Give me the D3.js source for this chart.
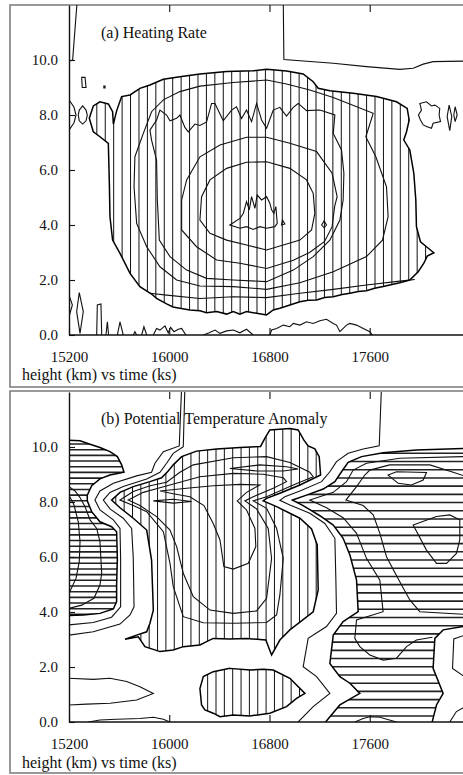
<!DOCTYPE html>
<html>
<head>
<meta charset="utf-8">
<script src="https://cdn.jsdelivr.net/npm/d3@7"></script>
<style>
  body { margin: 0; background: #fff; }
  svg { display: block; font-family: "Liberation Serif", "Times New Roman", serif; }
</style>
</head>
<body>
<div id="chart"></div>
<script>
// axes
const xTicks = [15200, 16000, 16800, 17600];
const yTicks = [0, 2, 4, 6, 8, 10];

// ---- (a) heating rate: contour lines as [time ks, height km] ----
const heatOuter = [[15554,7.67],[15580,8.15],[15620,8.67],[15687,8.73],[15766,8.97],[15846,9.09],[15953,9.30],[16085,9.39],[16245,9.49],[16458,9.58],[16670,9.61],[16777,9.66],[16936,9.60],[17069,9.49],[17149,9.21],[17189,8.97],[17282,8.88],[17468,8.79],[17654,8.67],[17814,8.48],[17899,8.24],[17915,7.82],[17894,7.39],[17872,7.09],[17920,6.73],[17952,5.88],[17968,4.91],[17973,3.94],[18005,3.39],[18053,3.21],[18112,2.99],[18059,2.87],[18032,2.61],[17987,2.30],[17920,2.00],[17840,1.90],[17707,1.76],[17640,1.70],[17574,1.61],[17510,1.58],[17442,1.52],[17380,1.47],[17309,1.39],[17240,1.36],[17176,1.27],[17110,1.26],[17043,1.21],[16963,1.09],[16883,0.97],[16830,0.91],[16777,0.73],[16697,0.79],[16617,0.85],[16564,0.76],[16511,0.85],[16458,0.76],[16378,0.85],[16298,0.81],[16245,0.88],[16165,0.91],[16085,0.97],[16030,1.02],[15979,1.13],[15899,1.33],[15859,1.49],[15766,1.76],[15687,2.24],[15607,2.97],[15548,3.45],[15527,4.30],[15522,5.52],[15514,6.97],[15447,7.21],[15394,7.39],[15362,7.88],[15394,8.33],[15447,8.48],[15514,8.40],[15548,8.12]];
const heatRing1 = [[15726,6.48],[15793,7.33],[15859,8.12],[15953,8.55],[16085,8.85],[16245,9.05],[16511,9.18],[16777,9.27],[16936,9.13],[17122,8.91],[17309,8.64],[17628,8.06],[17569,7.21],[17649,6.48],[17734,5.39],[17747,4.30],[17702,3.45],[17574,2.85],[17309,2.30],[17043,1.90],[16777,1.66],[16511,1.76],[16245,1.78],[16059,2.00],[15926,2.48],[15820,3.21],[15740,4.06],[15719,5.39]];
const heatRing2 = [[15846,7.45],[15899,7.82],[15926,8.18],[15979,8.00],[16006,7.79],[16059,7.88],[16085,8.00],[16125,7.55],[16152,7.39],[16205,7.67],[16245,7.62],[16298,7.75],[16338,8.42],[16365,8.42],[16405,8.04],[16431,7.79],[16498,8.18],[16537,8.30],[16577,7.87],[16617,8.18],[16657,7.76],[16697,8.42],[16737,7.82],[16777,7.52],[16830,8.18],[16883,8.28],[16936,7.96],[16990,8.28],[17029,8.42],[17096,8.16],[17202,8.18],[17322,8.00],[17309,7.33],[17375,6.73],[17394,5.88],[17388,4.91],[17362,4.18],[17282,3.45],[17149,2.85],[16990,2.36],[16777,1.94],[16511,2.00],[16298,2.06],[16139,2.36],[16006,2.85],[15921,3.45],[15905,4.91],[15899,6.36],[15859,7.09]];
const heatRing3 = [[16099,3.82],[16099,4.91],[16139,5.64],[16245,6.48],[16405,6.91],[16617,7.19],[16777,7.19],[16963,6.97],[17176,6.67],[17300,5.88],[17340,5.03],[17320,4.67],[17300,3.94],[17240,3.40],[17120,3.00],[16990,2.72],[16777,2.42],[16564,2.61],[16378,2.73],[16218,3.21]];
const heatRing4 = [[16245,4.18],[16258,5.03],[16325,5.64],[16458,6.06],[16617,6.28],[16777,6.30],[16963,6.06],[17096,5.64],[17149,5.15],[17162,4.42],[17136,3.82],[17043,3.45],[16910,3.27],[16777,3.09],[16617,3.27],[16458,3.45],[16325,3.70]];
const heatCore = [[16484,4.00],[16564,4.24],[16591,4.42],[16617,4.85],[16639,4.55],[16657,5.03],[16684,4.61],[16702,5.09],[16737,4.91],[16777,5.03],[16803,4.79],[16817,4.55],[16835,4.42],[16851,4.67],[16862,4.06],[16843,3.94],[16777,3.88],[16724,3.94],[16670,3.84],[16617,3.94],[16564,3.88]];
const heatSmallLoops = [
  [[16904,4.18],[16923,4.04],[16896,4.00]],
  [[17216,4.00],[17236,4.15],[17255,4.00],[17236,3.90]],
  [[15301,9.37],[15328,9.37],[15336,9.00],[15306,9.00]],
  [[15478,9.05],[15488,9.05],[15488,8.98],[15478,8.98]],
  [[15309,8.33],[15336,8.18],[15346,8.00],[15336,7.79],[15309,7.67],[15282,7.79],[15274,8.00],[15282,8.18]],
  [[18000,8.42],[18053,8.48],[18093,8.33],[18120,8.36],[18159,8.24],[18154,8.00],[18165,7.76],[18106,7.70],[18093,7.52],[18053,7.58],[18027,7.64],[18005,7.82],[17989,8.00],[18013,8.18]],
  [[18234,8.36],[18255,7.94],[18239,7.43],[18218,7.94]],
  [[18282,8.30],[18298,8.00],[18282,7.76],[18271,8.00]],
  [[15282,1.54],[15314,0.85],[15288,0.06],[15261,0.85]]
];
const heatLower = [[15846,1.52],[15979,1.45],[16245,1.33],[16511,1.39],[16777,1.36],[17043,1.52],[17309,1.66],[17574,1.82],[17840,1.96],[17960,2.02]];
const heatTopRight = [[16910,12.2],[16915,10.02],[17309,9.88],[17574,9.76],[17840,9.66],[17947,9.70],[18027,9.85],[18106,9.94],[18346,9.96],[18700,9.96]];
const heatTopLeft = [[15266,12.2],[15229,10.0],[15200,9.96],[15150,9.96]];
const heatLeftEdge = [[15150,8.55],[15200,8.55],[15240,8.28],[15256,8.00],[15240,7.72],[15200,7.45],[15150,7.45]];
const heatGround = [
  [[15200,1.45],[15227,1.09],[15200,0.67]],
  [[15421,0],[15426,1.09],[15455,1.13],[15461,0]],
  [[15495,0],[15506,0.48],[15516,0]],
  [[15586,0],[15607,0.48],[15633,0]],
  [[15713,0],[15726,0.12],[15740,0]],
  [[15780,0],[15798,0.30],[15820,0]],
  [[15873,0],[15899,0.24],[15926,0.18],[15966,0.33],[15992,0.08],[16011,0.28],[16038,0.12],[16072,0.21],[16099,0.24],[16133,0]],
  [[16272,0],[16319,0.08],[16365,0.18],[16405,0.06],[16458,0.15],[16511,0.18],[16564,0.08],[16617,0.21],[16670,0]],
  [[16803,0],[16817,0.18],[16857,0.24],[16910,0.36],[16963,0.30],[16990,0.42],[17043,0.36],[17096,0.48],[17149,0.42],[17202,0.52],[17255,0.57],[17309,0.42],[17335,0.36],[17362,0.12],[17415,0.36],[17442,0.42],[17495,0.36],[17548,0.24],[17601,0.12],[17622,0]]
];

// ---- (b) potential temperature anomaly ----
const thetaLeftRegion = [[15150,10.25],[15200,10.25],[15288,10.23],[15368,10.10],[15447,9.98],[15527,9.83],[15586,9.65],[15620,9.35],[15639,9.08],[15527,8.98],[15447,8.84],[15381,8.59],[15346,8.25],[15346,8.04],[15381,7.65],[15447,7.28],[15540,7.10],[15580,6.92],[15586,5.95],[15580,4.98],[15580,4.38],[15554,4.11],[15447,3.95],[15314,3.89],[15200,3.87],[15150,3.87]];
const thetaLeftInner1 = [[15200,8.56],[15248,8.40],[15288,8.16],[15328,7.83],[15368,7.35],[15421,7.04],[15447,6.56],[15461,5.41],[15447,4.98],[15399,4.50],[15301,4.25],[15200,4.13]];
const thetaLeftInner2 = [[15200,8.25],[15240,7.89],[15274,7.28],[15288,6.56],[15282,5.83],[15256,5.22],[15200,4.68]];
const thetaGapLeft1 = [[16099,12.2],[16080,10.04],[15953,9.83],[15886,9.41],[15859,9.08],[15740,8.95],[15554,8.68],[15447,8.40],[15407,8.07],[15447,7.71],[15554,7.35],[15607,7.04],[15612,5.95],[15612,4.19],[15540,3.81],[15394,3.62],[15200,3.53],[15150,3.53]];
const thetaGapLeft2 = [[16125,12.2],[16112,10.01],[16032,9.77],[15979,9.41],[15926,9.08],[15820,8.84],[15633,8.56],[15527,8.35],[15474,8.07],[15527,7.75],[15633,7.41],[15700,7.04],[15713,5.95],[15719,4.19],[15687,3.89],[15607,3.56],[15394,3.28],[15200,3.16],[15150,3.16]];
const thetaMiddle = [[15540,8.07],[15607,8.35],[15713,8.56],[15846,8.74],[15939,8.88],[15992,9.13],[16032,9.35],[16099,9.65],[16218,9.85],[16378,9.93],[16564,9.98],[16729,10.02],[16764,10.32],[16803,10.62],[16963,10.67],[17029,10.62],[17075,10.25],[17109,10.04],[17162,9.93],[17197,9.65],[17208,8.98],[17043,8.62],[16883,8.32],[16777,8.13],[16750,8.04],[16857,7.83],[17043,7.41],[17136,7.02],[17181,6.44],[17189,4.80],[17149,4.01],[16963,3.35],[16883,2.98],[16817,2.44],[16771,2.98],[16617,3.04],[16484,3.02],[16351,3.04],[16298,2.92],[16245,2.80],[16112,2.74],[16032,2.62],[15926,2.56],[15806,2.74],[15753,3.10],[15647,3.01],[15740,3.16],[15820,3.28],[15846,3.59],[15873,4.07],[15859,5.89],[15820,6.98],[15713,7.41],[15607,7.79]];
const thetaMidRing1 = [[15607,8.07],[15713,8.38],[15846,8.59],[15979,8.72],[16085,9.08],[16192,9.35],[16511,9.61],[16777,9.65],[16963,9.44],[17122,9.08],[17149,8.92],[16990,8.62],[16777,8.19],[16670,8.04],[16777,7.77],[16857,7.04],[16910,5.95],[16883,4.62],[16857,3.89],[16777,3.62],[16511,3.59],[16272,3.61],[16112,3.83],[16032,4.92],[16006,5.77],[15953,6.92],[15820,7.65],[15713,7.87]];
const thetaMidRing2 = [[15673,8.07],[15793,8.35],[15926,8.52],[16085,8.72],[16245,8.92],[16511,9.04],[16750,9.01],[16910,8.88],[16936,8.74],[16830,8.50],[16670,8.19],[16604,8.04],[16697,7.75],[16790,7.04],[16817,5.95],[16777,4.50],[16697,4.04],[16511,3.95],[16325,4.07],[16192,4.56],[16112,5.41],[16059,6.38],[16006,6.98],[15899,7.47],[15766,7.87]];
const thetaMidRing3 = [[15926,8.40],[16139,8.50],[16351,8.59],[16564,8.64],[16724,8.62],[16617,8.35],[16543,8.04],[16617,7.71],[16684,7.04],[16691,6.38],[16631,5.77],[16511,5.56],[16436,5.65],[16405,6.62],[16351,7.22],[16277,7.87],[16165,8.19],[16032,8.30]];
const thetaMidLoops = [
  [[15873,8.04],[16032,8.10],[16179,8.02],[16032,7.96]],
  [[16484,9.22],[16724,9.35],[16936,9.28],[17029,9.20],[16910,9.13],[16697,9.13]]
];
const thetaGapRight = [[17694,12.2],[17676,10.04],[17548,9.93],[17428,9.77],[17335,9.47],[17282,9.10],[17216,8.74],[17043,8.40],[16923,8.19],[16883,8.06],[16963,7.89],[17122,7.59],[17242,7.22],[17322,6.68],[17330,5.16],[17335,3.95],[17255,3.47],[17109,3.04],[17069,2.01],[17176,1.65],[17282,1.04],[17149,0.56],[17029,0]];
const thetaRightRegion = [[16984,8.07],[17096,8.25],[17229,8.47],[17322,8.74],[17375,9.10],[17428,9.44],[17535,9.65],[17707,9.79],[17973,9.89],[18346,9.95],[18700,9.95],[18700,3.50],[18346,3.47],[18186,3.35],[18120,3.04],[18106,1.95],[18186,1.04],[18133,0.62],[18093,-0.1],[17229,-0.1],[17362,0.62],[17521,1.04],[17442,1.41],[17362,1.65],[17282,2.13],[17309,3.16],[17388,3.65],[17508,4.01],[17495,5.16],[17442,6.07],[17388,6.68],[17309,7.16],[17202,7.50],[17069,7.87]];
const thetaRightInner1 = [[18700,9.08],[18346,8.96],[18266,9.08],[18080,9.35],[17760,9.35],[17601,9.16],[17561,8.98],[17495,8.56],[17410,8.07],[17548,7.87],[17628,7.53],[17681,6.86],[17734,6.01],[17840,5.10],[17920,4.44],[18000,4.01],[18346,3.92],[18700,3.92]];
const thetaRightInner2 = [[18700,9.65],[18346,9.65],[17840,9.59],[17574,9.41],[17468,9.16],[17415,8.74],[17309,8.35],[17122,8.07],[17255,7.79],[17388,7.43],[17495,6.86],[17574,5.95],[17681,5.16],[17707,4.01],[17495,3.71],[17481,3.04],[17521,2.74],[17601,2.44],[17707,2.25],[17814,2.32],[17894,2.74],[17973,2.98],[18100,3.08]];
const thetaRightLoops = [
  [[17747,8.98],[17814,9.10],[18053,9.07],[18027,8.80],[17933,8.62],[17827,8.68]],
  [[17947,7.16],[18133,7.47],[18239,7.53],[18319,7.35],[18319,6.62],[18292,6.13],[18213,5.77],[18133,5.77],[18053,6.25]]
];
const thetaBottomBlob = [[16484,1.95],[16644,1.89],[16750,1.92],[16830,1.89],[16963,1.59],[17083,1.04],[17016,0.86],[16936,0.56],[16803,0.32],[16644,0.22],[16511,0.25],[16405,0.19],[16351,0.32],[16285,0.44],[16258,0.62],[16245,1.22],[16272,1.65],[16351,1.83]];
const thetaBottomOpen = [
  [[15150,1.59],[15200,1.59],[15394,1.55],[15527,1.59],[15660,1.47],[15766,1.28],[15873,1.04],[15740,0.80],[15527,0.68],[15341,0.65],[15200,0.62],[15150,0.62]],
  [[15354,0],[15447,0.07],[15580,0.10],[15766,0.13],[15873,0.17],[15953,0.10],[16006,0]],
  [[18700,3.14],[18346,3.14],[18271,3.02],[18261,1.95],[18346,1.68],[18700,1.59]],
  [[18239,0],[18292,0.38],[18346,0.52],[18700,0.62]],
  [[17481,0],[17548,0.13],[17601,0.19],[17681,0.17],[17814,0]]
];

const panels = [
  {
    id: "a", title: "(a) Heating Rate", frame: [5, 387], plot: [335, 5], titleY: 38, footY: 380,
    hatched: [{ data: heatOuter, dir: "v", step: 8.43, phase: 231.7 }],
    closed: [heatRing1, heatRing2, heatRing3, heatRing4, heatCore, ...heatSmallLoops],
    open: [heatLower, heatTopRight, heatTopLeft, heatLeftEdge, ...heatGround]
  },
  {
    id: "b", title: "(b) Potential Temperature Anomaly", frame: [391, 773], plot: [722, 392], titleY: 424, footY: 768,
    hatched: [
      { data: thetaLeftRegion, dir: "h", step: 5.68, phase: 444 },
      { data: thetaRightRegion, dir: "h", step: 8.21, phase: 453.3 },
      { data: thetaMiddle, dir: "v", step: 8.35, phase: 232.7 },
      { data: thetaBottomBlob, dir: "v", step: 8.35, phase: 232.7 }
    ],
    closed: [thetaMidRing1, thetaMidRing2, thetaMidRing3, ...thetaMidLoops, ...thetaRightLoops],
    open: [thetaLeftInner1, thetaLeftInner2, thetaGapLeft1, thetaGapLeft2, thetaGapRight, thetaRightInner1, thetaRightInner2, ...thetaBottomOpen]
  }
];

const svg = d3.select("#chart").append("svg").attr("width", 463).attr("height", 775);
const defs = svg.append("defs");
const x = d3.scaleLinear().domain([15200, 18600]).range([69, 495]);

panels.forEach(p => {
  const y = d3.scaleLinear().domain([0, 12]).range(p.plot);
  const top = p.plot[1], bottom = p.plot[0];
  const line = d3.line().x(d => x(d[0])).y(d => y(d[1]));
  const closedLine = d3.line().x(d => x(d[0])).y(d => y(d[1])).curve(d3.curveLinearClosed);
  const g = svg.append("g");

  g.append("rect").attr("x", 10).attr("y", p.frame[0]).attr("width", 480).attr("height", p.frame[1] - p.frame[0])
    .attr("fill", "none").attr("stroke", "#808080").attr("stroke-width", 1.6);

  defs.append("clipPath").attr("id", `plot-${p.id}`).append("rect")
    .attr("x", 69).attr("y", top).attr("width", 440).attr("height", bottom - top);
  const plot = g.append("g").attr("clip-path", `url(#plot-${p.id})`);

  // hatching inside the shaded regions
  p.hatched.forEach((h, i) => {
    const cid = `hatch-${p.id}-${i}`;
    defs.append("clipPath").attr("id", cid).append("path").attr("d", closedLine(h.data));
    const hg = plot.append("g").attr("clip-path", `url(#${cid})`);
    if (h.dir === "v") {
      const xs = d3.range(h.phase - h.step * 30, 500, h.step).filter(v => v > 60);
      hg.selectAll("line").data(xs).join("line")
        .attr("x1", d => d).attr("x2", d => d).attr("y1", top).attr("y2", bottom)
        .attr("stroke", "#111").attr("stroke-width", 1);
    } else {
      const ys = d3.range(h.phase - h.step * 80, 790, h.step).filter(v => v > top - 2 && v < bottom + 2);
      hg.selectAll("line").data(ys).join("line")
        .attr("x1", 60).attr("x2", 520).attr("y1", d => d).attr("y2", d => d)
        .attr("stroke", "#222").attr("stroke-width", 1.6);
    }
  });

  plot.selectAll("path.closed").data(p.closed).join("path").attr("class", "closed")
    .attr("d", closedLine).attr("fill", "none").attr("stroke", "#111").attr("stroke-width", 1.1);
  plot.selectAll("path.open").data(p.open).join("path").attr("class", "open")
    .attr("d", line).attr("fill", "none").attr("stroke", "#111").attr("stroke-width", 1.1);
  plot.selectAll("path.edge").data(p.hatched).join("path").attr("class", "edge")
    .attr("d", h => closedLine(h.data)).attr("fill", "none").attr("stroke", "#000").attr("stroke-width", 1.5);

  // axes, ticks pointing inwards
  const yAxis = g.append("g").attr("transform", "translate(69,0)")
    .call(d3.axisLeft(y).tickValues(yTicks).tickFormat(d3.format(".1f")).tickSize(-6).tickSizeOuter(0).tickPadding(11));
  const xAxis = g.append("g").attr("transform", `translate(0,${bottom})`)
    .call(d3.axisBottom(x).tickValues(xTicks).tickFormat(d3.format("d")).tickSize(-7).tickSizeOuter(0).tickPadding(16));
  const topAxis = g.append("g").attr("transform", `translate(0,${top})`)
    .call(d3.axisTop(x).tickValues(xTicks.slice(1)).tickFormat(() => "").tickSize(-7).tickSizeOuter(0));
  topAxis.select(".domain").remove();
  [yAxis, xAxis, topAxis].forEach(a => {
    a.attr("font-family", null).attr("font-size", 15);
    a.selectAll("text").attr("fill", "#111");
    a.selectAll("line").attr("stroke", "#111").attr("stroke-width", 1.1);
    a.select(".domain").attr("stroke", "#111").attr("stroke-width", 1.4);
  });
  xAxis.select(".domain").attr("d", `M69,0H500`);

  g.append("text").attr("x", 101).attr("y", p.titleY).attr("font-size", 16).attr("fill", "#111").text(p.title);
  g.append("text").attr("x", 22).attr("y", p.footY).attr("font-size", 16).attr("fill", "#111").text("height (km) vs time (ks)");
});
</script>
</body>
</html>
